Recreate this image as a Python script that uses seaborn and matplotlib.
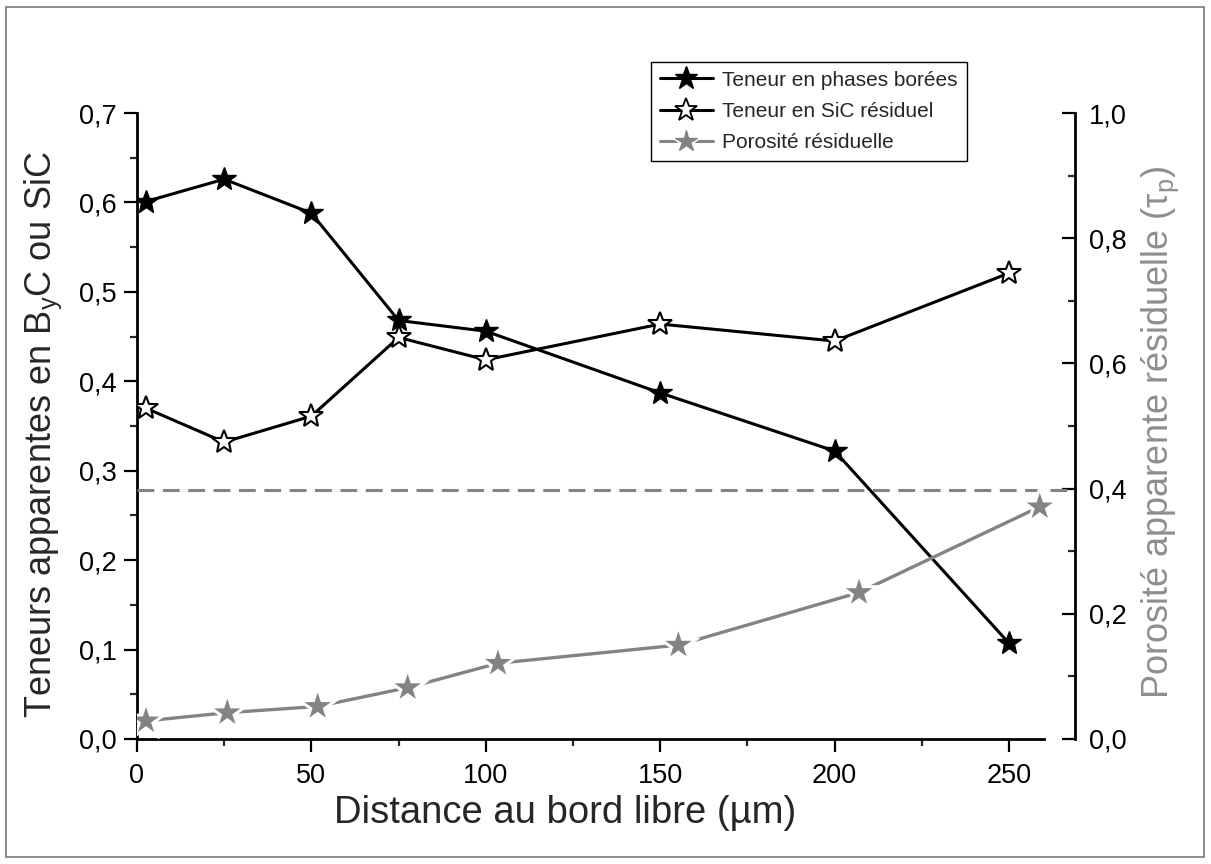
import matplotlib
matplotlib.use("Agg")
import matplotlib.pyplot as plt
import seaborn as sns
from matplotlib.ticker import MultipleLocator, FuncFormatter
from matplotlib.lines import Line2D
from matplotlib.patches import Rectangle

# Profils mesurés en fonction de la distance au bord libre (µm)
distance = [2.5, 25, 50, 75, 100, 150, 200, 250]
phases_borees = [0.601, 0.626, 0.588, 0.468, 0.456, 0.387, 0.322, 0.107]
sic_residuel = [0.370, 0.332, 0.361, 0.449, 0.424, 0.464, 0.445, 0.521]

distance_porosite = [2.6, 25.9, 51.8, 77.6, 103.5, 155.2, 207.0, 258.8]
porosite = [0.029, 0.042, 0.052, 0.082, 0.121, 0.150, 0.234, 0.371]
porosite_moyenne = 0.398

GREY = "#838383"
LABEL_GREY = "#8e8e8e"

sns.set_theme(style="white")
plt.rcParams["font.family"] = ["Liberation Sans", "DejaVu Sans"]
plt.rcParams["mathtext.fontset"] = "custom"
plt.rcParams["mathtext.rm"] = "Liberation Sans"
plt.rcParams["mathtext.it"] = "Liberation Sans:italic"
plt.rcParams["mathtext.default"] = "regular"

fig = plt.figure(figsize=(12.11, 8.64), dpi=100)
ax = fig.add_axes([0.1131, 0.1447, 0.7746, 0.7245])
ax2 = ax.twinx()

# Teneurs (axe gauche)
sns.lineplot(x=distance, y=phases_borees, ax=ax, color="black", linewidth=2.2,
             marker="*", markersize=18, markerfacecolor="black",
             markeredgecolor="black", markeredgewidth=1.0, zorder=3)
sns.lineplot(x=distance, y=sic_residuel, ax=ax, color="black", linewidth=2.2,
             marker="*", markersize=18, markerfacecolor="white",
             markeredgecolor="black", markeredgewidth=1.5, zorder=3)

# Porosité (axe droit) : trait, halo blanc autour des étoiles, puis étoiles
sns.lineplot(x=distance_porosite, y=porosite, ax=ax2, color=GREY,
             linewidth=2.4, zorder=2)
sns.scatterplot(x=distance_porosite, y=porosite, ax=ax2, marker="*", s=34**2,
                color="white", edgecolor="none", linewidth=0, zorder=3)
sns.scatterplot(x=distance_porosite, y=porosite, ax=ax2, marker="*", s=20**2,
                color=GREY, edgecolor="none", linewidth=0, zorder=4)
ax2.axhline(porosite_moyenne, color=GREY, linewidth=2.2,
            linestyle=(0, (5.5, 2.8)), zorder=1)

comma = FuncFormatter(lambda v, p: f"{v:.1f}".replace(".", ","))

ax.set_xlim(0, 268.9)
ax.set_ylim(0, 0.7)
ax2.set_ylim(0, 1.0)

ax.xaxis.set_major_locator(MultipleLocator(50))
ax.xaxis.set_minor_locator(MultipleLocator(25))
ax.yaxis.set_major_locator(MultipleLocator(0.1))
ax.yaxis.set_minor_locator(MultipleLocator(0.05))
ax.yaxis.set_major_formatter(comma)
ax2.yaxis.set_major_locator(MultipleLocator(0.2))
ax2.yaxis.set_minor_locator(MultipleLocator(0.1))
ax2.yaxis.set_major_formatter(comma)

for a in (ax, ax2):
    for s in a.spines.values():
        s.set_linewidth(2.0)
        s.set_color("black")
ax.spines["top"].set_visible(False)
ax.spines["right"].set_visible(False)
ax.spines["left"].set_bounds(0, 0.7)
ax.spines["bottom"].set_bounds(0, 260)
ax2.spines["top"].set_visible(False)
ax2.spines["left"].set_visible(False)
ax2.spines["bottom"].set_visible(False)

ax.tick_params(axis="both", which="major", direction="out", length=9.5, width=1.6,
               labelsize=19.5, pad=5, colors="black")
ax.tick_params(axis="both", which="minor", direction="out", length=5, width=1.6)
ax.tick_params(axis="x", which="major", pad=8)
ax2.tick_params(axis="y", which="major", direction="in", length=9.5, width=1.6,
                labelsize=19.5, pad=10, colors="black")
ax2.tick_params(axis="y", which="minor", direction="in", length=5, width=1.6)
ax.tick_params(axis="x", which="both", bottom=True)
ax.tick_params(axis="y", which="both", left=True)
ax2.tick_params(axis="y", which="both", right=True)

ax.set_xlabel("Distance au bord libre (µm)", fontsize=27.5)
ax.set_ylabel("Teneurs apparentes en B$_y$C ou SiC", fontsize=26)
ax2.set_ylabel("Porosité apparente résiduelle (τ$_p$)", fontsize=26,
               color=LABEL_GREY)
ax.xaxis.set_label_coords(0.456, -0.090)
ax.yaxis.set_label_coords(-0.078, 0.486)
ax2.yaxis.set_label_coords(1.069, 0.490)

halo = Line2D([], [], color=GREY, linewidth=2.2, marker="*", markersize=24,
              markerfacecolor="white", markeredgecolor="white")
handles = [
    Line2D([], [], color="black", linewidth=2.2, marker="*", markersize=17,
           markerfacecolor="black", markeredgecolor="black"),
    Line2D([], [], color="black", linewidth=2.2, marker="*", markersize=17,
           markerfacecolor="white", markeredgecolor="black", markeredgewidth=1.3),
    (halo, Line2D([], [], linestyle="none", marker="*", markersize=16,
                  markerfacecolor=GREY, markeredgecolor=GREY)),
]
labels = ["Teneur en phases borées", "Teneur en SiC résiduel", "Porosité résiduelle"]
leg = fig.legend(handles, labels, loc="upper left",
                 bbox_to_anchor=(0.5376, 0.9282), bbox_transform=fig.transFigure,
                 borderaxespad=0, fontsize=15, frameon=True, fancybox=False,
                 edgecolor="black", framealpha=1, handlelength=2.55,
                 handletextpad=0.45, labelspacing=0.58, borderpad=0.42)
leg.get_frame().set_linewidth(1.0)

fig.add_artist(Rectangle((6 / 1211, 7 / 864), 1198 / 1211, 850 / 864,
                         transform=fig.transFigure, fill=False,
                         edgecolor="#7a7a7a", linewidth=1.2))

fig.savefig("out.png", dpi=100)
